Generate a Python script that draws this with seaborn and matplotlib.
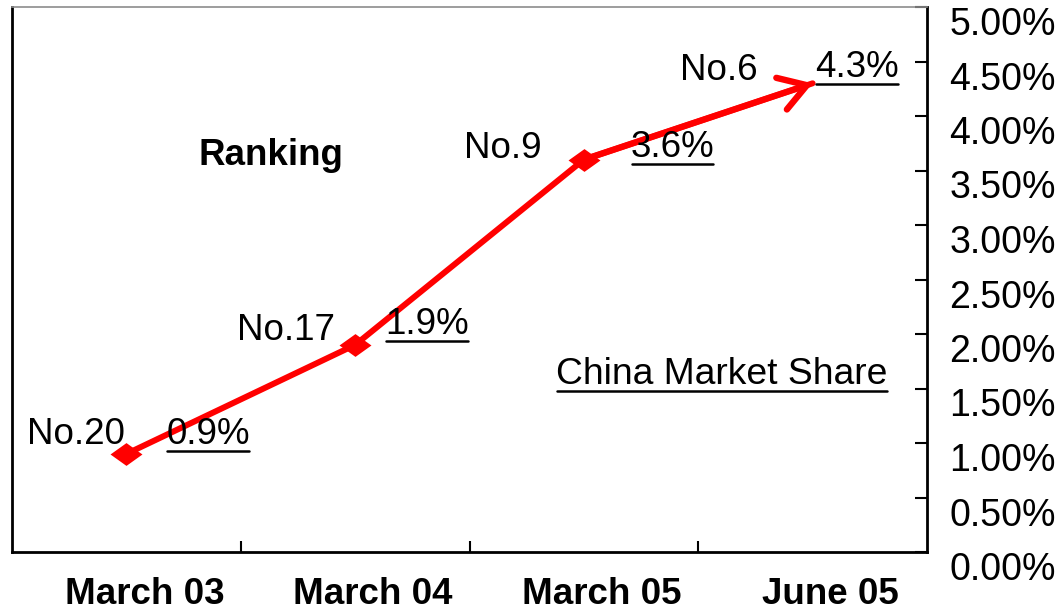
import matplotlib
matplotlib.use("Agg")
import matplotlib.pyplot as plt
import seaborn as sns
import pandas as pd
from matplotlib.path import Path
from matplotlib.lines import Line2D
from matplotlib.transforms import ScaledTranslation

# ---------------- data ----------------
periods = ["March 03", "March 04", "March 05", "June 05"]
share = [0.9, 1.9, 3.6, 4.3]                     # China market share, %
share_labels = ["0.9%", "1.9%", "3.6%", "4.3%"]
rankings = ["No.20", "No.17", "No.9", "No.6"]
y_ticks = [0.0, 0.5, 1.0, 1.5, 2.0, 2.5, 3.0, 3.5, 4.0, 4.5, 5.0]

# ---------------- layout (text anchors in data coords) ----------------
rank_pos = [(-0.005, 0.99), (0.913, 1.945), (1.816, 3.615), (2.76, 4.33)]     # right / baseline
share_pos = [(0.175, 0.99), (1.131, 2.0), (2.205, 3.62), (3.01, 4.36)]        # left / baseline
ranking_title_pos = (0.315, 3.55)
legend_pos = (1.88, 1.54)

sns.set_theme(style="white")
plt.rcParams["font.family"] = ["Liberation Sans", "DejaVu Sans"]

fig = plt.figure(figsize=(10.58, 6.11), dpi=100)
ax = fig.add_axes([12 / 1058, 1 - 552 / 611, (927 - 12) / 1058, (552 - 7) / 611])

df = pd.DataFrame({"idx": range(len(periods)), "share": share})

diamond = Path([(-1.4, 0), (0, 1), (1.4, 0), (0, -1), (-1.4, 0)],
               [Path.MOVETO, Path.LINETO, Path.LINETO, Path.LINETO, Path.CLOSEPOLY])

sns.lineplot(data=df, x="idx", y="share", ax=ax, color="#FF0000", linewidth=4.3,
             marker=diamond, markersize=23, markeredgewidth=0,
             markevery=list(range(len(share) - 1)), legend=False)

# arrow head on the last point
ax.annotate("", xy=(df["idx"].iloc[-1], share[-1]),
            xytext=(df["idx"].iloc[-2], share[-2]),
            arrowprops=dict(arrowstyle="->,head_length=1.6,head_width=1.0",
                            lw=4.6, color="#FF0000", shrinkA=0, shrinkB=0))

ax.set_xlim(-0.5, len(periods) - 0.5)
ax.set_ylim(y_ticks[0], y_ticks[-1])
ax.set_xlabel("")
ax.set_ylabel("")

# x axis: labels at centres, tick marks at category boundaries
ax.set_xticks(range(len(periods)))
ax.set_xticklabels(periods, fontsize=26.5, fontweight="bold")
ax.set_xticks([i + 0.5 for i in range(len(periods) - 1)], minor=True)
ax.tick_params(axis="x", which="major", length=0, pad=18, colors="black")
ax.tick_params(axis="x", which="minor", direction="in", length=8, width=1.5,
               bottom=True, color="black")
shift = ScaledTranslation(18 / 100, 0, fig.dpi_scale_trans)
for lbl in ax.get_xticklabels():
    lbl.set_transform(lbl.get_transform() + shift)

# y axis on the right
ax.yaxis.tick_right()
ax.set_yticks(y_ticks)
ax.set_yticklabels([f"{v:.2f}%" for v in y_ticks], fontsize=27)
ax.tick_params(axis="y", which="major", direction="in", length=9, width=1.5,
               right=True, left=False, pad=16, colors="black")
for lbl in ax.get_yticklabels():
    lbl.set_verticalalignment("top")

for side in ["left", "bottom", "right"]:
    ax.spines[side].set_color("black")
    ax.spines[side].set_linewidth(2)
ax.spines["top"].set_color("#8c8c8c")
ax.spines["top"].set_linewidth(1.2)
ax.grid(False)
ax.set_facecolor("white")

# texts
underlined = []
for (x, y), s in zip(rank_pos, rankings):
    ax.text(x, y, s, fontsize=26.5, ha="right", va="baseline", color="black")
for (x, y), s in zip(share_pos, share_labels):
    t = ax.text(x, y, s, fontsize=26.5, ha="left", va="baseline", color="black")
    underlined.append((t, y))
ax.text(ranking_title_pos[0], ranking_title_pos[1], "Ranking", fontsize=26.5,
        fontweight="bold", ha="left", va="baseline", color="black")
t = ax.text(legend_pos[0], legend_pos[1], "China Market Share", fontsize=26.8,
            ha="left", va="baseline", color="black")
underlined.append((t, legend_pos[1]))

# draw underlines beneath underlined texts
fig.canvas.draw()
renderer = fig.canvas.get_renderer()
inv = fig.transFigure.inverted()
for t, ybase in underlined:
    bb = t.get_window_extent(renderer)
    yb = ax.transData.transform((0, ybase))[1] - 7
    p0 = inv.transform((bb.x0 + 1, yb))
    p1 = inv.transform((bb.x1 - 1, yb))
    fig.add_artist(Line2D([p0[0], p1[0]], [p0[1], p1[1]], transform=fig.transFigure,
                          color="black", linewidth=1.8))

fig.savefig("out.png", dpi=100, facecolor="white")
